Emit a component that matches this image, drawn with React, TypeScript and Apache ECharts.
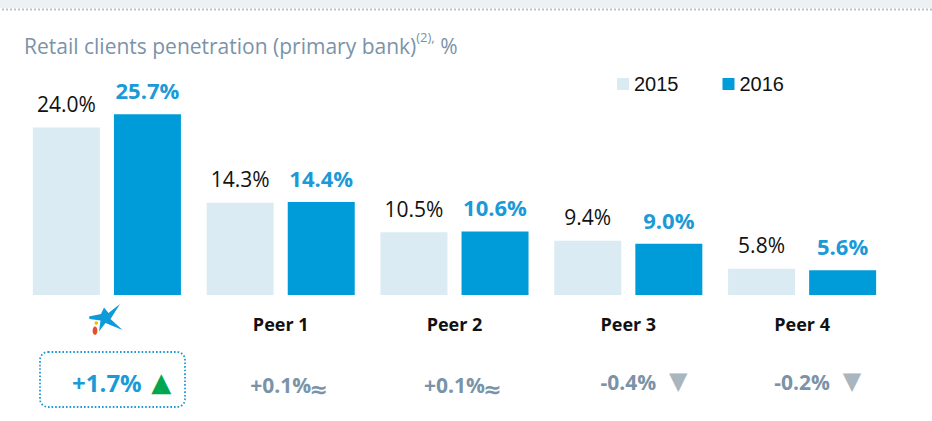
import React, { useEffect, useRef } from "react";
import * as echarts from "echarts";

const categories = ["CaixaBank", "Peer 1", "Peer 2", "Peer 3", "Peer 4"];
const years = ["2015", "2016"];
const values2015 = [24.0, 14.3, 10.5, 9.4, 5.8];
const values2016 = [25.7, 14.4, 10.6, 9.0, 5.6];
const changes = ["+1.7%", "+0.1%", "+0.1%", "-0.4%", "-0.2%"];
const trends = ["up", "flat", "flat", "down", "down"];
const titleMain = "Retail clients penetration (primary bank)";
const titleSup = "(2),";
const titleUnit = " %";

const LIGHT = "#daebf3";
const BLUE = "#009bd9";
const LABEL_BLUE = "#1b9ad7";
const GREY_BLUE = "#7b93a8";
const FONT = "'Open Sans', 'DejaVu Sans', sans-serif";

export default function App() {
  const ref = useRef<HTMLDivElement>(null);
  useEffect(() => {
    if (!ref.current) return;
    const chart = echarts.init(ref.current, null, { renderer: "svg" });
    const changeLabel = (_v: string, i: number) => {
      const t = trends[i];
      const txt = changes[i];
      if (i === 0) return `{padU|}{hl|${txt}}{gapU|}{up|▲}`;
      if (t === "flat") return `{padF|}{v|${txt}}{approx|≈}`;
      if (t === "up") return `{padU|}{v|${txt}}{gapU|}{up|▲}`;
      return `{padD|}{v|${txt}}{gapD|}{down|▼}`;
    };
    chart.setOption({
      animation: false,
      title: {
        left: 24,
        top: 30,
        padding: 0,
        text: `{a|${titleMain}}{s|${titleSup}}{a|${titleUnit}}`,
        textStyle: {
          fontWeight: "normal",
          rich: {
            a: { fontFamily: FONT, fontSize: 21, fontWeight: "normal", color: GREY_BLUE, lineHeight: 32 },
            s: { fontFamily: FONT, fontSize: 13, fontWeight: "normal", color: GREY_BLUE, lineHeight: 13, verticalAlign: "top" },
          },
        },
      },
      legend: {
        data: years,
        left: 617,
        top: 74,
        padding: 0,
        icon: "rect",
        itemWidth: 12,
        itemHeight: 12,
        itemGap: 44,
        textStyle: { fontFamily: "'Liberation Sans', Arial, sans-serif", fontSize: 20, color: "#111" },
      },
      grid: { left: 20, right: 43, top: 81, bottom: 126 },
      xAxis: [
        {
          type: "category",
          data: categories,
          axisLine: { show: false },
          axisTick: { show: false },
          axisLabel: {
            interval: 0,
            margin: 20,
            fontFamily: FONT,
            fontSize: 18,
            fontWeight: "bold",
            color: "#111",
            formatter: (v: string, i: number) => (i === 0 ? "" : v),
          },
        },
        {
          type: "category",
          data: categories,
          position: "bottom",
          axisLine: { show: false },
          axisTick: { show: false },
          axisLabel: {
            interval: 0,
            margin: 74,
            formatter: changeLabel,
            rich: {
              hl: { fontFamily: FONT, fontSize: 24, fontWeight: "bold", color: LABEL_BLUE, lineHeight: 26 },
              v: { fontFamily: FONT, fontSize: 21, fontWeight: "bold", color: GREY_BLUE, lineHeight: 26 },
              padU: { width: 31 },
              gapU: { width: 8 },
              up: { fontFamily: "'DejaVu Sans'", fontSize: 26, color: "#00a650", width: 23, align: "center", lineHeight: 26 },
              padF: { width: 15 },
              approx: { fontFamily: "'DejaVu Sans'", fontSize: 22, fontWeight: "bold", color: GREY_BLUE, width: 15, padding: [9, 0, 0, 0] },
              padD: { width: 33 },
              gapD: { width: 11 },
              down: { fontFamily: "'DejaVu Sans'", fontSize: 24, color: "#a9b6be", width: 22, align: "center", lineHeight: 26, padding: [0, 0, 3, 0] },
            },
          },
        },
      ],
      yAxis: {
        type: "value",
        min: 2.4,
        max: 30,
        show: false,
        splitLine: { show: false },
      },
      series: [
        {
          name: years[0],
          type: "bar",
          data: values2015,
          barWidth: 67,
          barGap: "21%",
          itemStyle: { color: LIGHT },
          label: {
            show: true,
            position: "top",
            distance: 13,
            fontFamily: FONT,
            fontSize: 21,
            color: "#111",
            formatter: (p: any) => p.value.toFixed(1) + "%",
          },
        },
        {
          name: years[1],
          type: "bar",
          data: values2016,
          barWidth: 67,
          itemStyle: { color: BLUE },
          label: {
            show: true,
            position: "top",
            distance: 13,
            fontFamily: FONT,
            fontSize: 22,
            fontWeight: "bold",
            color: LABEL_BLUE,
            formatter: (p: any) => p.value.toFixed(1) + "%",
          },
        },
      ],
      graphic: [
        { type: "rect", shape: { x: 0, y: 0, width: 932, height: 8 }, style: { fill: "#eef1f3" }, silent: true },
        {
          type: "line",
          shape: { x1: 2, y1: 9.5, x2: 932, y2: 9.5 },
          style: { stroke: "#b7c3cb", lineWidth: 2, lineDash: [2, 2] },
          silent: true,
        },
        {
          type: "rect",
          shape: { x: 40, y: 352, width: 145, height: 55, r: 8 },
          style: { fill: "none", stroke: LABEL_BLUE, lineWidth: 1.8, lineDash: [1.6, 2] },
          silent: true,
        },
        {
          type: "group",
          x: 85,
          y: 302,
          silent: true,
          children: [
            {
              type: "polygon",
              shape: {
                points: [
                  [4, 14.5], [16, 12], [19, 5.5], [23.5, 11], [35, 2], [25.5, 17],
                  [37.5, 28], [20.5, 21], [14, 29.5], [15.5, 18.5], [4.5, 17],
                ],
              },
              style: { fill: "#0f9ad8" },
            },
            { type: "circle", shape: { cx: 11.3, cy: 21, r: 1.8 }, style: { fill: "#f5b800" } },
            { type: "ellipse", shape: { cx: 10, cy: 28.8, rx: 2.4, ry: 4.2 }, style: { fill: "#e3502b" } },
          ],
        },
      ],
    });
    return () => chart.dispose();
  }, []);
  return <div ref={ref} style={{ position: "fixed", left: 0, top: 0, width: 932, height: 421, background: "#fff" }} />;
}
